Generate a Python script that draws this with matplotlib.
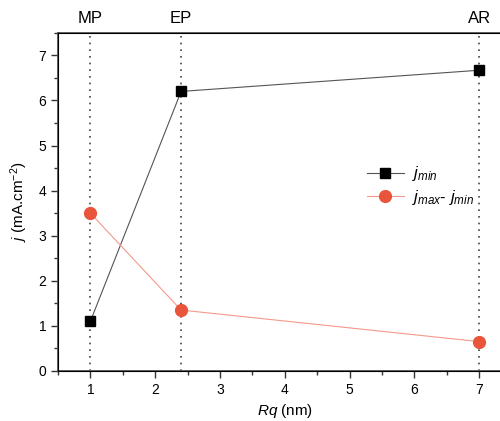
import matplotlib.pyplot as plt
from matplotlib.ticker import MultipleLocator

plt.rcParams['font.family'] = ['Liberation Sans', 'DejaVu Sans']
plt.rcParams['mathtext.fontset'] = 'custom'
plt.rcParams['mathtext.it'] = 'Liberation Sans:italic'
plt.rcParams['mathtext.rm'] = 'Liberation Sans'

rq = [1, 2.4, 7]
j_min = [1.1, 6.2, 6.67]
j_diff = [3.5, 1.35, 0.65]
top_labels = ['MP', 'EP', 'AR']

fig = plt.figure(figsize=(5, 4.21), dpi=100)
ax = fig.add_axes([0.116, 0.119, 0.907, 0.803])

for x in rq:
    ax.axvline(x, color='#444444', linestyle=(0, (1, 3)), linewidth=1.2, zorder=1)

ax.plot(rq, j_min, color='#555555', linewidth=0.8, marker='s', markersize=7.5,
        markerfacecolor='black', markeredgecolor='black', label='$j_{min}$', zorder=3)
ax.plot(rq, j_diff, color='#f5998a', linewidth=0.8, marker='o', markersize=8.5,
        markerfacecolor='#e8553a', markeredgecolor='#e8553a',
        label='$j_{max}$- $j_{min}$', zorder=3)

ax.set_xlim(0.5, 7.5)
ax.set_ylim(0, 7.5)
ax.xaxis.set_major_locator(MultipleLocator(1))
ax.xaxis.set_minor_locator(MultipleLocator(0.5))
ax.yaxis.set_major_locator(MultipleLocator(1))
ax.yaxis.set_minor_locator(MultipleLocator(0.5))
ax.tick_params(which='major', direction='out', length=5, width=1, colors='#333333', labelsize=10)
ax.tick_params(which='minor', direction='out', length=3, width=1, colors='#333333')
ax.tick_params(axis='both', labelcolor='black')
for s in ax.spines.values():
    s.set_color('#555555')
    s.set_linewidth(1.3)

ax.set_xlabel('$Rq$ (nm)', fontsize=11)
ax.set_ylabel('$j$ (mA.cm$^{-2}$)', fontsize=11, labelpad=6)

top = ax.twiny()
top.set_xlim(ax.get_xlim())
top.set_xticks(rq)
top.set_xticklabels(top_labels, fontsize=12)
top.tick_params(length=0, pad=5)

ax.legend(loc='upper left', bbox_to_anchor=(0.648, 0.655), frameon=False,
          fontsize=12, handlelength=2.2, labelspacing=0.25, handletextpad=0.5)

fig.savefig('out.png', dpi=100)
